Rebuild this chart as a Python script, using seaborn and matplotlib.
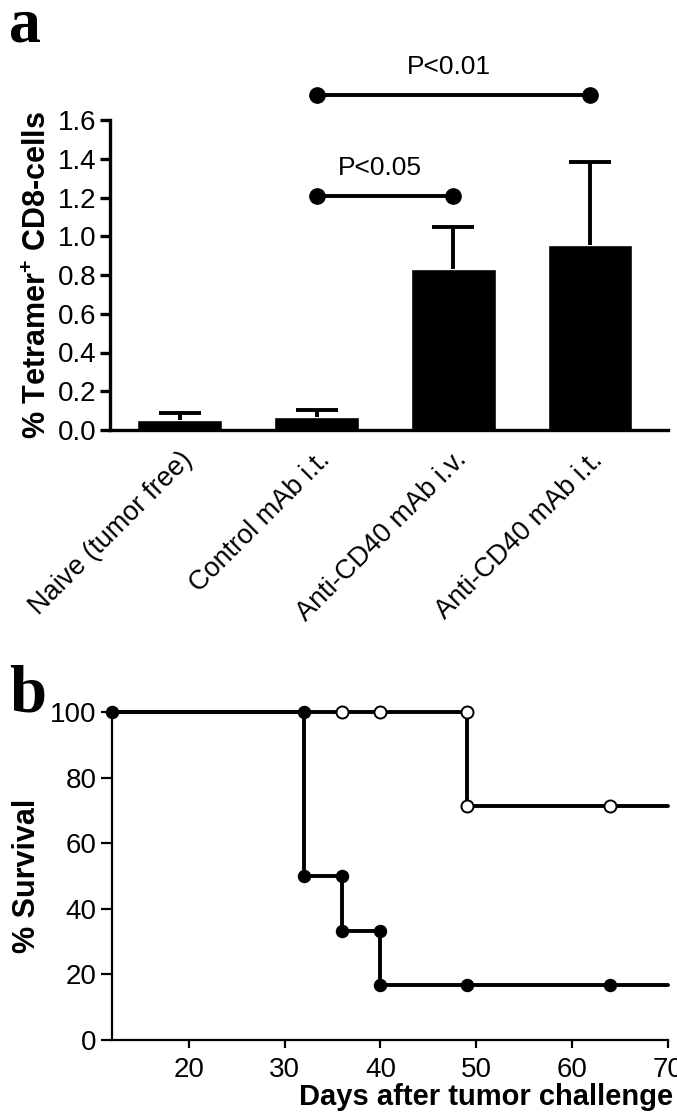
import numpy as np
import pandas as pd
import matplotlib
matplotlib.use("Agg")
import matplotlib.pyplot as plt
import seaborn as sns

# ---- data: panel a ----
groups = ["Naive (tumor free)", "Control mAb i.t.", "Anti-CD40 mAb i.v.", "Anti-CD40 mAb i.t."]
tetramer_mean = [0.052, 0.069, 0.829, 0.955]
tetramer_err = [0.038, 0.034, 0.22, 0.43]
yticks_a = [0.0, 0.2, 0.4, 0.6, 0.8, 1.0, 1.2, 1.4, 1.6]
sig_pairs = [(1, 2), (1, 3)]
sig_levels = [1.21, 1.73]
sig_labels = ["P<0.05", "P<0.01"]

# ---- data: panel b ----
filled_t = [12, 32, 32, 36, 36, 40, 40, 49, 64, 70]
filled_s = [100, 100, 50, 50, 33.3, 33.3, 16.7, 16.7, 16.7, 16.7]
filled_mark_t = [12, 32, 32, 36, 36, 40, 40, 49, 64]
filled_mark_s = [100, 100, 50, 50, 33.3, 33.3, 16.7, 16.7, 16.7]
open_t = [12, 49, 49, 70]
open_s = [100, 100, 71.4, 71.4]
open_mark_t = [36, 40, 49, 49, 64]
open_mark_s = [100, 100, 100, 71.4, 71.4]
xticks_b = [20, 30, 40, 50, 60, 70]
yticks_b = [0, 20, 40, 60, 80, 100]

sns.set_theme(style="ticks")
plt.rcParams["font.family"] = ["Liberation Sans", "DejaVu Sans"]
plt.rcParams["mathtext.fontset"] = "custom"
plt.rcParams["mathtext.rm"] = "Liberation Sans:bold"
plt.rcParams["mathtext.it"] = "Liberation Sans:bold"
plt.rcParams["mathtext.bf"] = "Liberation Sans:bold"
for k in ["text.color", "axes.labelcolor", "xtick.color", "ytick.color", "axes.edgecolor"]:
    plt.rcParams[k] = "black"

fig = plt.figure(figsize=(6.77, 11.16), dpi=100)

LW = 2.8
SPWA = 2.4
SPWB = 1.6

# ---------------- panel a ----------------
axa = fig.add_axes([110 / 677, 1 - 430 / 1116, 558 / 677, 310 / 1116])
dfa = pd.DataFrame({"group": groups, "value": tetramer_mean})
sns.barplot(data=dfa, x="group", y="value", color="black", width=0.62,
            errorbar=None, ax=axa, saturation=1)
eb = axa.errorbar(range(len(groups)), tetramer_mean,
                  yerr=[np.zeros(len(groups)), tetramer_err],
                  fmt="none", ecolor="black", elinewidth=LW, capsize=15, capthick=LW)
# hide the lower caps (one-sided error bars)
for cl in eb[1]:
    yd = np.asarray(cl.get_ydata(), dtype=float)
    if np.allclose(yd, tetramer_mean):
        cl.set_visible(False)
axa.set_xlim(-0.51, 3.57)
axa.set_ylim(0, 1.6)
axa.set_yticks(yticks_a)
axa.set_yticklabels([f"{v:.1f}" for v in yticks_a], fontsize=20)
axa.set_xticks(range(len(groups)))
axa.set_xticklabels(groups, rotation=45, ha="right", rotation_mode="anchor", fontsize=19.5)
axa.tick_params(axis="x", length=0, pad=12)
axa.tick_params(axis="y", length=7, width=SPWA, pad=3)
axa.set_xlabel("")
axa.set_ylabel("% Tetramer$^{+}$ CD8-cells", fontsize=22, fontweight="bold", labelpad=3)
for s in ["top", "right"]:
    axa.spines[s].set_visible(False)
for s in ["left", "bottom"]:
    axa.spines[s].set_linewidth(SPWA)

for (x0, x1), lv, lab in zip(sig_pairs, sig_levels, sig_labels):
    axa.plot([x0, x1], [lv, lv], color="black", lw=LW, marker="o", ms=11,
             clip_on=False)
    axa.text((x0 + x1) / 2 - (0.04 if x1 - x0 == 1 else 0.03), lv + 0.08, lab,
             ha="center", va="bottom", fontsize=19, clip_on=False)

fig.text(9 / 677, 1 - 41 / 1116, "a", family="Liberation Serif", fontweight="bold",
         fontsize=46, ha="left", va="baseline")

# ---------------- panel b ----------------
axb = fig.add_axes([112 / 677, 1 - 1040 / 1116, 556 / 677, 328 / 1116])
dff = pd.DataFrame({"t": filled_t, "s": filled_s})
dfo = pd.DataFrame({"t": open_t, "s": open_s})
sns.lineplot(data=dfo, x="t", y="s", estimator=None, sort=False, color="black",
             lw=LW, ax=axb, clip_on=False)
sns.lineplot(data=dff, x="t", y="s", estimator=None, sort=False, color="black",
             lw=LW, ax=axb, clip_on=False)
sns.scatterplot(x=filled_mark_t, y=filled_mark_s, color="black", s=75,
                edgecolor="black", linewidth=1, ax=axb, zorder=5, clip_on=False)
sns.scatterplot(x=open_mark_t, y=open_mark_s, color="white", s=75,
                edgecolor="black", linewidth=1.4, ax=axb, zorder=5, clip_on=False)
axb.set_xlim(12, 70)
axb.set_ylim(0, 100)
axb.set_xticks(xticks_b)
axb.set_xticklabels([str(v) for v in xticks_b], fontsize=20)
axb.set_yticks(yticks_b)
axb.set_yticklabels([str(v) for v in yticks_b], fontsize=20)
axb.tick_params(axis="x", length=6, width=SPWB, pad=6)
axb.tick_params(axis="y", length=8, width=SPWB, pad=3)
axb.set_ylabel("% Survival", fontsize=22, fontweight="bold", labelpad=6)
axb.set_xlabel("Days after tumor challenge", fontsize=21, fontweight="bold",
               loc="right", labelpad=0)
axb.xaxis.label.set_x(1.01)
for s in ["top", "right"]:
    axb.spines[s].set_visible(False)
for s in ["left", "bottom"]:
    axb.spines[s].set_linewidth(SPWB)

fig.text(9 / 677, 1 - 712 / 1116, "b", family="Liberation Serif", fontweight="bold",
         fontsize=48, ha="left", va="baseline")

fig.savefig("out.png", dpi=100, facecolor="white")
